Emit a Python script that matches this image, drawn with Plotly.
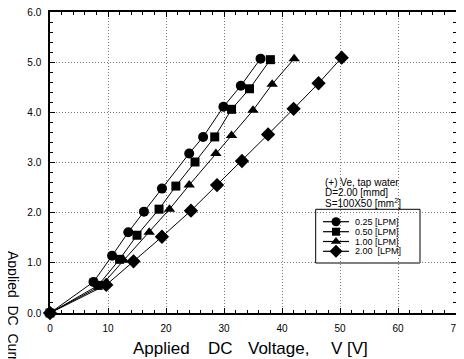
import plotly.graph_objects as go

# ---- data ----
series_names = ["0.25\u00a0[LPM]", "0.50\u00a0[LPM]", "1.00\u00a0[LPM]", "2.00\u00a0\u00a0[LPM]"]
v_025 = [0, 7.5, 10.7, 13.5, 16.2, 19.3, 24.0, 26.4, 29.9, 32.9, 36.3]
i_025 = [0, 0.62, 1.14, 1.61, 2.02, 2.48, 3.18, 3.51, 4.11, 4.53, 5.07]
v_050 = [0, 8.3, 12.0, 15.0, 18.8, 21.7, 25.0, 28.4, 31.3, 34.4, 38.0]
i_050 = [0, 0.55, 1.07, 1.55, 2.07, 2.53, 3.01, 3.51, 4.06, 4.47, 5.05]
v_100 = [0, 8.9, 12.7, 17.1, 20.6, 24.0, 28.6, 31.3, 35.0, 38.3, 42.1]
i_100 = [0, 0.55, 1.05, 1.61, 2.07, 2.55, 3.18, 3.54, 4.04, 4.56, 5.07]
v_200 = [0, 9.7, 14.4, 19.3, 24.3, 28.8, 33.1, 37.6, 42.0, 46.3, 50.3]
i_200 = [0, 0.56, 1.03, 1.52, 2.04, 2.55, 3.03, 3.56, 4.07, 4.58, 5.09]
symbols = ["circle", "square", "triangle-up", "diamond"]
msizes = [10, 9, 10, 11]
info_lines = ["(+) Ve, tap water", "D=2.00 [mmd]", "S=100X50 [mm<sup>2</sup>]"]
x_title_words = ["Applied", "DC", "Voltage,", "V [V]"]
y_title = "Applied\u00a0\u00a0DC\u00a0\u00a0Current,\u00a0\u00a0I [A]"

# ---- layout constants (page pixels); page body has an 8px margin ----
OFF = 8
W, H = 464 - OFF, 359 - OFF
L, R, T, B = 50 - OFF, 8, 12 - OFF, 46
PW, PH = W - L - R, H - T - B

def px(xp):  # page x -> paper
    return (xp - OFF - L) / PW

def py(yp):  # page y -> paper
    return (H - B - (yp - OFF)) / PH

fig = go.Figure()
all_v = [v_025, v_050, v_100, v_200]
all_i = [i_025, i_050, i_100, i_200]
for k in range(4):
    fig.add_trace(go.Scatter(
        x=all_v[k], y=all_i[k], mode="lines+markers", name=series_names[k],
        line=dict(color="black", width=1),
        marker=dict(symbol=symbols[k], size=msizes[k], color="black"),
        showlegend=False, cliponaxis=False))

# ---- manual legend ----
shapes = []
annotations = []
shapes.append(dict(type="rect", xref="paper", yref="paper",
                   x0=px(315.7), x1=px(420), y0=py(263), y1=py(209.3),
                   line=dict(color="black", width=1), fillcolor="white",
                   layer="between"))
rows = [221.7, 231.7, 241.5, 251.3]
for k in range(4):
    yk = py(rows[k])
    shapes.append(dict(type="line", xref="paper", yref="paper",
                       x0=px(323), x1=px(349), y0=yk, y1=yk,
                       line=dict(color="black", width=1.2), layer="above"))
    fig.add_trace(go.Scatter(x=[px(336)], y=[yk], xaxis="x2", yaxis="y2",
                             mode="markers", showlegend=False, hoverinfo="skip",
                             marker=dict(symbol=symbols[k], size=msizes[k] - 1, color="black")))
    annotations.append(dict(text=series_names[k], xref="paper", yref="paper",
                            x=px(353), y=yk, xanchor="left", yanchor="middle",
                            showarrow=False, font=dict(size=9, color="black")))
info_y = [182.7, 192.5, 202.7]
for t, yy in zip(info_lines, info_y):
    annotations.append(dict(text=t, xref="paper", yref="paper",
                            x=px(322.5), y=py(yy), xanchor="left", yanchor="middle",
                            showarrow=False, font=dict(size=10, color="black")))

# titles (x title words placed at their positions in the original)
x_word_centers = [161.5, 220, 278.5, 349]
for wtxt, cx in zip(x_title_words, x_word_centers):
    annotations.append(dict(text=wtxt, xref="paper", yref="paper", x=px(cx), y=py(348),
                            xanchor="center", yanchor="middle", showarrow=False,
                            font=dict(size=17, color="black")))
annotations.append(dict(text=y_title,
                        xref="paper", yref="paper", x=px(13), y=py(334),
                        xanchor="center", yanchor="middle", showarrow=False,
                        textangle=90, font=dict(size=14, color="black")))

axis_common = dict(showline=True, linecolor="black", linewidth=1.5, mirror="allticks",
                   ticks="inside", ticklen=5, tickwidth=1, tickcolor="black",
                   showgrid=True, gridcolor="#7a7a7a", griddash="1px,2px", gridwidth=1,
                   zeroline=False, ticklabeloverflow="allow")

fig.update_layout(
    width=W, height=H, margin=dict(l=L, r=R, t=T, b=B, autoexpand=False),
    paper_bgcolor="white", plot_bgcolor="white",
    font=dict(family="Liberation Sans, Arial, sans-serif", color="black"),
    xaxis=dict(range=[0, 70], dtick=10, tick0=0,
               minor=dict(dtick=2, ticks="inside", ticklen=3, tickcolor="black"),
               tickfont=dict(size=10), ticklabelstandoff=5, **axis_common),
    yaxis=dict(range=[0, 6], dtick=1, tick0=0, tickformat=".1f",
               minor=dict(dtick=0.2, ticks="inside", ticklen=3, tickcolor="black"),
               tickfont=dict(size=10), ticklabelstandoff=5, **axis_common),
    xaxis2=dict(range=[0, 1], overlaying="x", visible=False, fixedrange=True),
    yaxis2=dict(range=[0, 1], overlaying="y", visible=False, fixedrange=True),
    shapes=shapes, annotations=annotations,
)

fig.write_html("out.html")
